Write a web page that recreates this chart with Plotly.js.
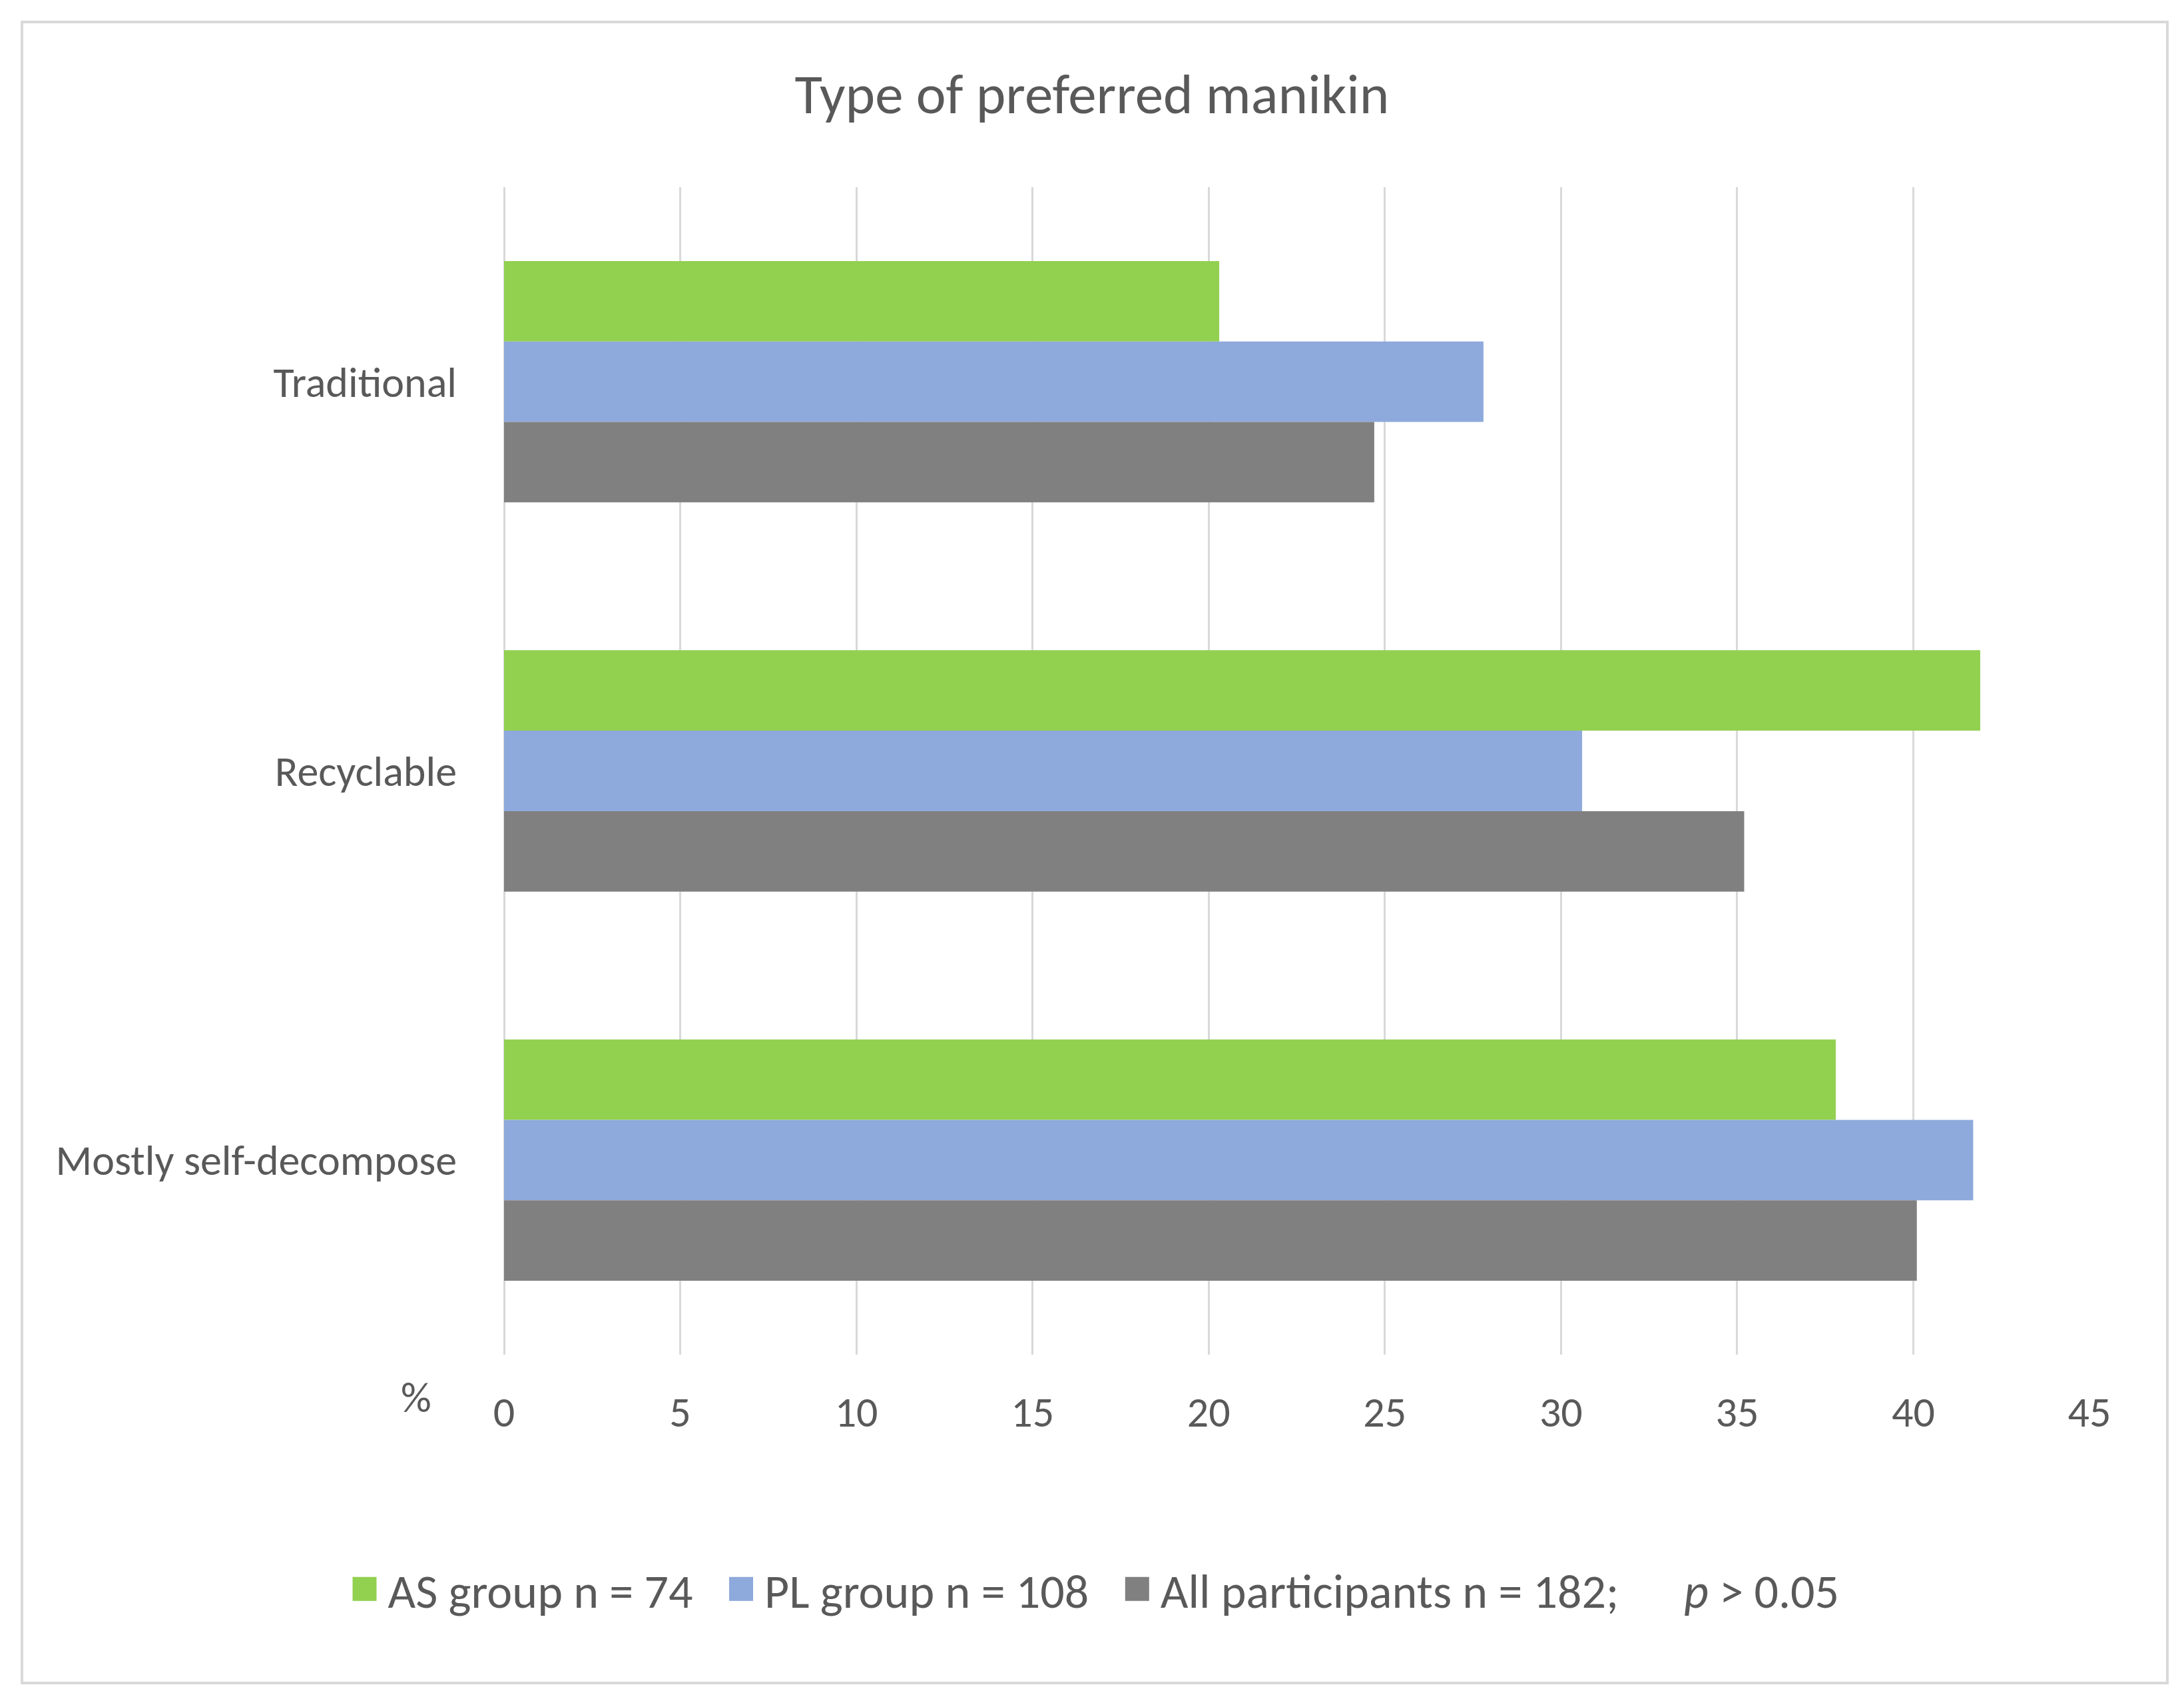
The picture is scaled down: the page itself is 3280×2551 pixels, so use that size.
<!DOCTYPE html>
<html>
<head>
<meta charset="utf-8">
<script src="https://cdn.plot.ly/plotly-3.0.1.min.js"></script>
<style>
  html, body { margin: 0; padding: 0; background: #ffffff; }
  #chart { position: absolute; left: 0; top: 0; width: 3280px; height: 2551px; }
  #frame { position: absolute; left: 31px; top: 31px; width: 3218px; height: 2490px;
           border: 4px solid #d9d9d9; pointer-events: none; }
</style>
</head>
<body>
<div id="chart"></div>
<div id="frame"></div>
<script>
// Data (percent of each group)
const categories = ["Traditional", "Recyclable", "Mostly self-decompose"];
const asGroup = [20.3, 41.9, 37.8];         // AS group n = 74
const plGroup = [27.8, 30.6, 41.7];         // PL group n = 108
const allParticipants = [24.7, 35.2, 40.1]; // All participants n = 182
const seriesNames = ["AS group n = 74", "PL group n = 108",
  "All participants n = 182;\u00a0\u00a0\u00a0\u00a0\u00a0\u00a0<i>p</i> > 0.05"];
const xTicks = [0, 5, 10, 15, 20, 25, 30, 35, 40, 45];

const FONT = "Carlito, Calibri, Lato, sans-serif";
const TXT = "#595959";

const colors = ["#92D050", "#8EA9DB", "#808080"];
const values = [asGroup, plGroup, allParticipants];
const namePad = ["\u00a0\u00a0", "\u00a0\u00a0", ""];

const M = { l: 757, r: 142, t: 281, b: 517 };
const plotW = 3280 - M.l - M.r;
const plotH = 2551 - M.t - M.b;
const plotBottom = 2551 - M.b;

const traces = values.map((v, i) => ({
  type: "bar",
  orientation: "h",
  y: categories,
  x: v,
  name: seriesNames[i] + namePad[i],
  marker: { color: colors[i], line: { width: 0 } },
  hoverinfo: "x+y"
}));

const layout = {
  width: 3280,
  height: 2551,
  paper_bgcolor: "#ffffff",
  plot_bgcolor: "#ffffff",
  margin: { l: M.l, r: M.r, t: M.t, b: M.b, pad: 0 },
  barmode: "group",
  bargap: 0.38,
  bargroupgap: 0,
  title: {
    text: "Type of preferred manikin",
    font: { family: FONT, size: 85, color: TXT },
    x: 0.5, xref: "container", xanchor: "center",
    y: 1 - 140 / 2551, yref: "container", yanchor: "middle"
  },
  xaxis: {
    range: [0, 45],
    tickvals: xTicks,
    ticktext: xTicks.map(String),
    showgrid: true,
    gridcolor: "#d9d9d9",
    gridwidth: 3,
    zeroline: true,
    zerolinecolor: "#d9d9d9",
    zerolinewidth: 3,
    showline: false,
    ticks: "",
    ticklabelstandoff: 43,
    tickfont: { family: FONT, size: 64, color: TXT },
    fixedrange: true
  },
  yaxis: {
    type: "category",
    autorange: "reversed",
    showgrid: false,
    zeroline: false,
    showline: false,
    ticks: "",
    ticklabelstandoff: 70,
    tickfont: { family: FONT, size: 64, color: TXT },
    fixedrange: true
  },
  showlegend: true,
  legend: {
    orientation: "h",
    xref: "container", x: 0.5, xanchor: "center",
    yref: "container", y: 1 - 2386 / 2551, yanchor: "middle",
    font: { family: FONT, size: 72, color: TXT },
    traceorder: "normal",
    itemwidth: 60,
    bgcolor: "rgba(0,0,0,0)"
  },
  annotations: [{
    text: "%",
    xref: "paper", yref: "paper",
    x: (625 - M.l) / plotW, y: (plotBottom - 2098) / plotH,
    xanchor: "center", yanchor: "middle",
    showarrow: false,
    font: { family: FONT, size: 64, color: TXT }
  }]
};

Plotly.newPlot("chart", traces, layout, { displayModeBar: false, staticPlot: true }).then(() => {
  document.querySelectorAll(".legend .legendpoints path").forEach(p => {
    const t = p.getAttribute("transform") || "";
    p.setAttribute("transform", t + " scale(3)");
  });
});
</script>
</body>
</html>
